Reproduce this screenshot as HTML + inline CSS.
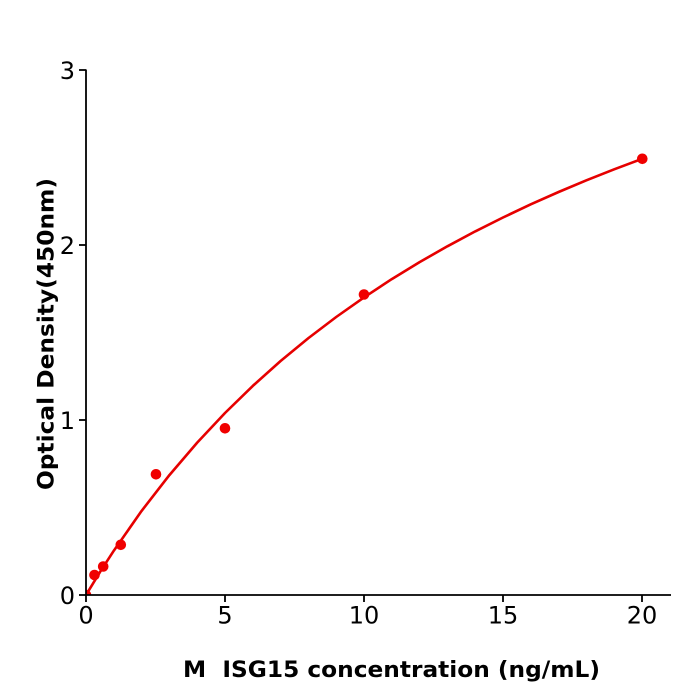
<!DOCTYPE html>
<html><head><meta charset="utf-8"><style>
html,body{margin:0;padding:0;background:#fff;}
svg{display:block;}
</style></head><body>
<svg width="700" height="700" viewBox="0 0 700 700" xmlns="http://www.w3.org/2000/svg">
<defs><clipPath id="ax"><rect x="86" y="40" width="600" height="555"/></clipPath></defs>
<rect width="700" height="700" fill="#fff"/>
<g clip-path="url(#ax)">
<polyline fill="none" stroke="#e60000" stroke-width="2.6" stroke-linejoin="round" points="86,595 99.9,572.2 113.8,550.7 141.6,510.9 169.4,475.1 197.2,442.6 225,413 252.8,385.9 280.6,361 308.4,338.1 336.2,317 364,297.4 391.8,279.1 419.6,262.1 447.4,246.3 475.2,231.4 503,217.5 530.8,204.3 558.6,192 586.4,180.3 614.2,169.3 642,158.9"/>
<g fill="#f00000">
<circle cx="86" cy="595" r="5.3"/>
<circle cx="94.5" cy="575" r="5.3"/>
<circle cx="103.2" cy="566.5" r="5.3"/>
<circle cx="120.8" cy="544.8" r="5.3"/>
<circle cx="156" cy="474.3" r="5.3"/>
<circle cx="225" cy="428.3" r="5.3"/>
<circle cx="364" cy="294.5" r="5.3"/>
<circle cx="642.3" cy="158.8" r="5.3"/>
</g>
</g>
<g stroke="#000" stroke-width="1.8" fill="none">
<line x1="86" y1="69.5" x2="86" y2="596"/>
<line x1="85" y1="595" x2="671" y2="595"/>
<line x1="79" y1="70" x2="86" y2="70"/>
<line x1="79" y1="245" x2="86" y2="245"/>
<line x1="79" y1="420" x2="86" y2="420"/>
<line x1="79" y1="595" x2="86" y2="595"/>
<line x1="86" y1="595" x2="86" y2="602"/>
<line x1="225" y1="595" x2="225" y2="602"/>
<line x1="364" y1="595" x2="364" y2="602"/>
<line x1="503" y1="595" x2="503" y2="602"/>
<line x1="642" y1="595" x2="642" y2="602"/>
</g>
<g font-family="DejaVu Sans, Liberation Sans, sans-serif" font-size="24" fill="#000">
<text x="75" y="79" text-anchor="end">3</text>
<text x="75" y="254" text-anchor="end">2</text>
<text x="75" y="429" text-anchor="end">1</text>
<text x="75" y="604" text-anchor="end">0</text>
<text x="86" y="623.5" text-anchor="middle">0</text>
<text x="225" y="623.5" text-anchor="middle">5</text>
<text x="364" y="623.5" text-anchor="middle">10</text>
<text x="503" y="623.5" text-anchor="middle">15</text>
<text x="642" y="623.5" text-anchor="middle">20</text>
</g>
<g font-family="DejaVu Sans, Liberation Sans, sans-serif" font-size="22" font-weight="bold" fill="#000">
<text x="391.5" y="677" text-anchor="middle" textLength="417" lengthAdjust="spacingAndGlyphs" xml:space="preserve">M  ISG15 concentration (ng/mL)</text>
<text transform="translate(53.5,334) rotate(-90)" x="0" y="0" text-anchor="middle" textLength="312" lengthAdjust="spacingAndGlyphs">Optical Density(450nm)</text>
</g>
</svg>
</body></html>
